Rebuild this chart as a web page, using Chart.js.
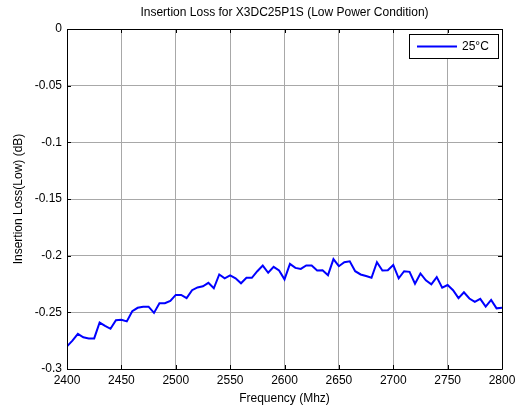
<!DOCTYPE html>
<html>
<head>
<meta charset="utf-8">
<script src="https://cdn.jsdelivr.net/npm/chart.js@4"></script>
<style>
  body { margin: 0; background: #fff; }
  canvas { display: block; }
</style>
</head>
<body>
<canvas id="lossChart" width="520" height="408"></canvas>
<script>
const freqs = [
  2400, 2405, 2410, 2415, 2420, 2425, 2430, 2435, 2440, 2445,
  2450, 2455, 2460, 2465, 2470, 2475, 2480, 2485, 2490, 2495,
  2500, 2505, 2510, 2515, 2520, 2525, 2530, 2535, 2540, 2545,
  2550, 2555, 2560, 2565, 2570, 2575, 2580, 2585, 2590, 2595,
  2600, 2605, 2610, 2615, 2620, 2625, 2630, 2635, 2640, 2645,
  2650, 2655, 2660, 2665, 2670, 2675, 2680, 2685, 2690, 2695,
  2700, 2705, 2710, 2715, 2720, 2725, 2730, 2735, 2740, 2745,
  2750, 2755, 2760, 2765, 2770, 2775, 2780, 2785, 2790, 2795,
  2800
];
const loss25 = [
  -0.280, -0.275, -0.269, -0.272, -0.273, -0.273, -0.259, -0.262, -0.2645, -0.257,
  -0.2565, -0.258, -0.249, -0.246, -0.245, -0.245, -0.2505, -0.242, -0.242, -0.240,
  -0.2346, -0.2346, -0.2375, -0.2305, -0.228, -0.227, -0.224, -0.2288, -0.2166, -0.220,
  -0.2174, -0.220, -0.2244, -0.2195, -0.2195, -0.2137, -0.2087, -0.2151, -0.2099, -0.2131,
  -0.2209, -0.2073, -0.2108, -0.2117, -0.2087, -0.2087, -0.2131, -0.2128, -0.2172, -0.203,
  -0.2093, -0.2058, -0.205, -0.2137, -0.2166, -0.218, -0.2195, -0.2058, -0.2131, -0.2128,
  -0.2082, -0.220, -0.2137, -0.2143, -0.2247, -0.2157, -0.2218, -0.2253, -0.2189, -0.2282,
  -0.2259, -0.2305, -0.2375, -0.2323, -0.2378, -0.2407, -0.2381, -0.245, -0.239, -0.2465,
  -0.2459
];
const xTicks = [2400, 2450, 2500, 2550, 2600, 2650, 2700, 2750, 2800];
const yTicks = [0, -0.05, -0.1, -0.15, -0.2, -0.25, -0.3];
const yTickLabels = ['0', '-0.05', '-0.1', '-0.15', '-0.2', '-0.25', '-0.3'];

Chart.defaults.font.family = '"Liberation Sans", Arial, sans-serif';
Chart.defaults.font.size = 12;
Chart.defaults.color = '#000';

// matlab style box, inward ticks and boxed legend
const matlabAxes = {
  id: 'matlabAxes',
  afterDraw(chart) {
    const ctx = chart.ctx;
    const a = chart.chartArea;
    const xs = chart.scales.x, ys = chart.scales.y;
    const t = 4;
    ctx.save();
    ctx.strokeStyle = '#000';
    ctx.lineWidth = 1;
    ctx.beginPath();
    ctx.rect(Math.round(a.left) + 0.5, Math.round(a.top) + 0.5,
      Math.round(a.right - a.left), Math.round(a.bottom - a.top));
    xTicks.forEach(v => {
      const px = Math.round(xs.getPixelForValue(v)) + 0.5;
      ctx.moveTo(px, a.bottom); ctx.lineTo(px, a.bottom - t);
      ctx.moveTo(px, a.top); ctx.lineTo(px, a.top + t);
    });
    yTicks.forEach(v => {
      const py = Math.round(ys.getPixelForValue(v)) + 0.5;
      ctx.moveTo(a.left, py); ctx.lineTo(a.left + t, py);
      ctx.moveTo(a.right, py); ctx.lineTo(a.right - t, py);
    });
    ctx.stroke();

    // legend
    const ds = chart.data.datasets[0];
    const bx = 409.5, by = 34.5, bw = 89, bh = 24;
    ctx.fillStyle = '#fff';
    ctx.fillRect(bx, by, bw, bh);
    ctx.strokeRect(bx, by, bw, bh);
    ctx.strokeStyle = ds.borderColor;
    ctx.lineWidth = 2;
    ctx.beginPath();
    ctx.moveTo(417, 46.5); ctx.lineTo(457, 46.5);
    ctx.stroke();
    ctx.fillStyle = '#000';
    ctx.font = '12px "Liberation Sans", Arial, sans-serif';
    ctx.textBaseline = 'middle';
    ctx.fillText(ds.label, 462, 47);
    ctx.restore();
  }
};

new Chart(document.getElementById('lossChart').getContext('2d'), {
  type: 'line',
  data: {
    datasets: [{
      label: '25°C',
      data: freqs.map((f, i) => ({ x: f, y: loss25[i] })),
      borderColor: '#0000ff',
      borderWidth: 2,
      pointRadius: 0,
      tension: 0,
      fill: false
    }]
  },
  options: {
    responsive: false,
    animation: false,
    layout: { padding: { left: 0, right: 18, top: 0, bottom: 0 } },
    plugins: {
      legend: { display: false },
      tooltip: { enabled: false },
      title: {
        display: true,
        fullSize: false,
        text: 'Insertion Loss for X3DC25P1S (Low Power Condition)',
        font: { size: 12, weight: 'normal' },
        color: '#000',
        padding: { top: 5, bottom: 9.6 }
      }
    },
    scales: {
      x: {
        type: 'linear',
        min: 2400,
        max: 2800,
        afterBuildTicks: s => { s.ticks = xTicks.map(v => ({ value: v })); },
        afterFit: s => { s.height = 39; },
        ticks: { padding: 4, maxRotation: 0, callback: v => String(v) },
        grid: { color: '#a8a8a8', drawTicks: false },
        border: { display: false },
        title: { display: true, text: 'Frequency (Mhz)', padding: { top: 2, bottom: 2 } }
      },
      y: {
        min: -0.3,
        max: 0,
        afterBuildTicks: s => { s.ticks = yTicks.map(v => ({ value: v })); },
        afterFit: s => { s.width = 67; },
        ticks: { padding: 5, callback: v => yTickLabels[yTicks.indexOf(v)] },
        grid: { color: '#a8a8a8', drawTicks: false },
        border: { display: false },
        title: { display: true, text: 'Insertion Loss(Low) (dB)', padding: { top: 11, bottom: 0 } }
      }
    }
  },
  plugins: [matlabAxes]
});
</script>
</body>
</html>
